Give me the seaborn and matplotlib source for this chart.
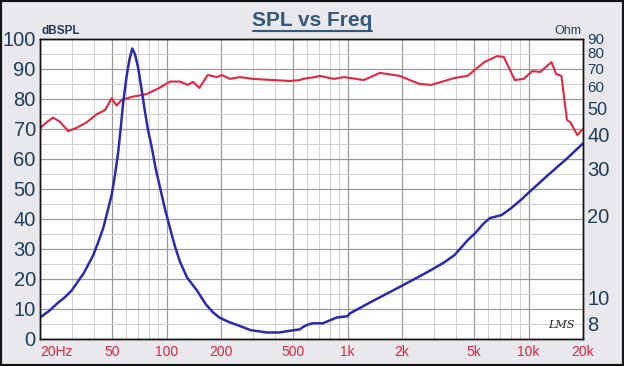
import matplotlib
matplotlib.use('Agg')
import matplotlib.pyplot as plt
import seaborn as sns
from matplotlib.ticker import FixedLocator, NullLocator, MultipleLocator
from matplotlib.patches import Rectangle
from matplotlib.lines import Line2D

# SPL curve (dB, left axis)
spl_freq = [20, 21.5, 23.6, 25.8, 28.6, 31.9, 36.2, 41.1, 45.7, 49.8, 53, 56.5, 65.3,
            77.5, 92, 104.5, 118.7, 131, 140, 152, 169, 190, 202, 224, 254, 300,
            390, 478, 546, 567, 660, 704, 838, 957, 1230, 1510, 1940, 2500, 2900,
            3900, 4600, 5700, 6700, 7300, 8400, 9400, 10500, 11600, 13400, 14200,
            15200, 16300, 17000, 18600, 20000]
spl_db = [70.2, 72.0, 73.8, 72.4, 69.3, 70.4, 72.2, 74.9, 76.3, 80.2, 77.8, 79.7, 80.8,
          81.6, 83.8, 85.8, 85.8, 84.7, 85.7, 83.7, 88.0, 87.3, 88.0, 86.7, 87.3, 86.7,
          86.3, 86.0, 86.3, 86.7, 87.3, 87.7, 86.7, 87.3, 86.3, 88.7, 87.7, 85.0, 84.7,
          87.0, 87.7, 92.3, 94.3, 94.0, 86.3, 86.7, 89.3, 89.0, 92.3, 88.3,
          87.7, 73.0, 72.3, 68.0, 70.0]

# impedance curve (Ohm, right axis)
imp_freq = [20, 22.5, 25, 27.5, 30, 35, 39.4, 42, 44.7, 47, 49.8, 52, 54.1, 56, 57.7,
            60.3, 62.5, 64.7, 67, 69.8, 73, 76, 79, 82.8, 87, 92.1, 98, 104.5, 111,
            118.7, 130, 147, 165, 180, 196, 220, 250, 291, 357, 420, 478, 546, 567,
            600, 640, 730, 870, 1000, 1030, 1350, 1940, 2600, 2900, 3400, 3900, 4640,
            5100, 5600, 6120, 7100, 8000, 9100, 10200, 13000, 16200, 20000]
imp_ohm = [8.4, 8.9, 9.5, 10.0, 10.6, 12.3, 14.3, 16.0, 18.0, 20.5, 23.9, 28.5, 34.4, 43.0,
           52.8, 66.0, 76.0, 83.0, 79.0, 70.2, 58.0, 48.5, 41.5, 35.9, 30.0, 25.4, 21.2,
           18.0, 15.5, 13.5, 11.8, 10.6, 9.4, 8.8, 8.4, 8.1, 7.85, 7.55, 7.4, 7.4, 7.5,
           7.6, 7.75, 7.9, 8.0, 8.0, 8.4, 8.5, 8.7, 9.6, 10.9, 12.1, 12.6, 13.4, 14.3,
           16.3, 17.3, 18.6, 19.6, 20.1, 21.3, 22.9, 24.6, 28.5, 32.4, 37.0]

x_ticks = [20, 50, 100, 200, 500, 1000, 2000, 5000, 10000, 20000]
x_labels = ['20Hz', '50', '100', '200', '500', '1k', '2k', '5k', '10k', '20k']
x_minor = [30, 40, 60, 70, 80, 90, 300, 400, 600, 700, 800, 900,
           3000, 4000, 6000, 7000, 8000, 9000]
db_ticks = list(range(0, 101, 10))
ohm_ticks = [8, 10, 20, 30, 40, 50, 60, 70, 80, 90]
ohm_sizes = [14.5, 14.5, 14.5, 14.5, 14.5, 13, 11, 11, 11, 11]

navy = '#1f3d5e'
red = '#e3263e'
blue = '#2a2ab0'

sns.set_style('white')
plt.rcParams['font.family'] = ['Liberation Sans', 'DejaVu Sans']

fig = plt.figure(figsize=(6.24, 3.66), dpi=100, facecolor='#e8e8ed')
ax = fig.add_axes([0.0641, 0.0738, 0.8702, 0.8197])
ax.set_facecolor('white')
ax.set_xscale('log')
ax.set_xlim(20, 20000)
ax.set_ylim(0, 100)

ax.xaxis.set_major_locator(FixedLocator(x_ticks))
ax.xaxis.set_minor_locator(FixedLocator(x_minor))
ax.set_xticklabels(x_labels)
ax.yaxis.set_major_locator(FixedLocator(db_ticks))
ax.yaxis.set_minor_locator(MultipleLocator(5))
ax.grid(which='major', color='#9a9a9a', lw=0.9)
ax.grid(which='minor', color='#cfcfcf', lw=0.7)
ax.set_axisbelow(True)

ax.tick_params(axis='y', which='both', length=0, labelsize=14.5, labelcolor=navy, pad=3)
ax.tick_params(axis='x', which='both', length=0, labelsize=10, labelcolor=red, pad=4)
ax.get_xticklabels()[0].set_horizontalalignment('left')

sns.lineplot(x=spl_freq, y=spl_db, ax=ax, color=red, lw=1.5)

ax2 = ax.twinx()
ax2.set_yscale('log')
ax2.set_ylim(7, 90)
ax2.yaxis.set_major_locator(FixedLocator(ohm_ticks))
ax2.yaxis.set_minor_locator(NullLocator())
ax2.set_yticklabels([str(t) for t in ohm_ticks])
ax2.tick_params(axis='y', length=0, labelcolor=navy, pad=3)
for lbl, sz in zip(ax2.get_yticklabels(), ohm_sizes):
    lbl.set_fontsize(sz)
ax2.grid(False)
sns.lineplot(x=imp_freq, y=imp_ohm, ax=ax2, color=blue, lw=1.8)

for a in (ax, ax2):
    a.set_xlabel('')
    a.set_ylabel('')
    for s in a.spines.values():
        s.set_color('#111111')
        s.set_linewidth(1.0)

ax.text(0.003, 1.008, 'dBSPL', transform=ax.transAxes, ha='left', va='bottom',
        fontsize=8.5, fontweight='bold', color=navy)
ax.text(0.997, 1.008, 'Ohm', transform=ax.transAxes, ha='right', va='bottom',
        fontsize=9, color=navy)
ax.text(0.985, 0.03, 'LMS', transform=ax.transAxes, ha='right', va='bottom',
        fontsize=8, style='italic', family='DejaVu Serif', color='#222222')

fig.text(0.5, 1 - 20 / 366, 'SPL vs Freq', ha='center', va='center',
         fontsize=15, fontweight='bold', color='#35597a')
fig.add_artist(Line2D([253 / 624, 372 / 624], [1 - 31 / 366, 1 - 31 / 366],
                      transform=fig.transFigure, color='#35597a', lw=1.5))
fig.patches.append(Rectangle((0, 0), 1, 1, transform=fig.transFigure, fill=False,
                             ec='#111111', lw=3))

fig.savefig('out.png', dpi=100, facecolor=fig.get_facecolor())
